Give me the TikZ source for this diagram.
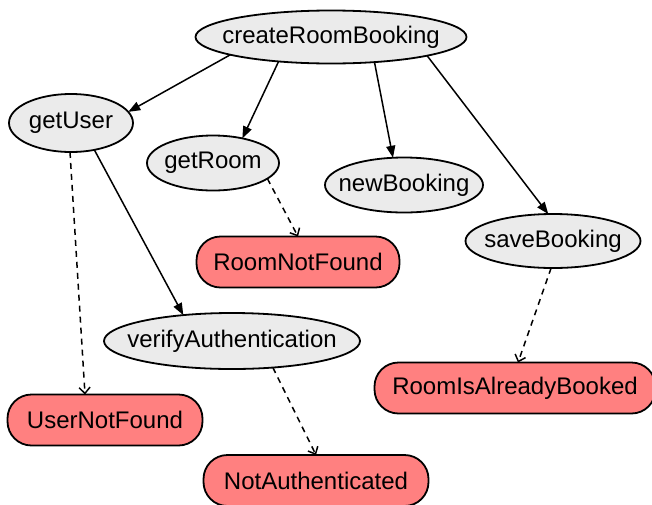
\documentclass[tikz,border=0pt]{standalone}
\usepackage{fontspec}
\setmainfont{Liberation Sans}
\usetikzlibrary{shapes.geometric,arrows.meta}
\definecolor{nodegray}{RGB}{235,235,235}
\definecolor{errred}{RGB}{255,128,128}
\newcommand{\lbl}[1]{\makebox[0pt][c]{#1}}
\begin{document}
\begin{tikzpicture}[x=1pt,y=-1pt,
  op/.style={ellipse, draw, line width=1.8pt, fill=nodegray, inner sep=0pt, outer sep=0pt,
    font=\fontsize{24}{28}\selectfont},
  err/.style={rectangle, rounded corners=24pt, draw, line width=1.8pt, fill=errred,
    inner sep=0pt, outer sep=0pt, minimum height=51pt, font=\fontsize{24}{28}\selectfont},
  call/.style={-{Triangle[length=12pt,width=9pt]}, line width=1.5pt},
  fail/.style={-{Straight Barb[length=6pt,width=11pt]}, dashed, dash pattern=on 6pt off 5pt, line width=1.5pt}]
\useasboundingbox (0,0) rectangle (652,504);

\node[op, minimum width=271pt, minimum height=53pt] (crb) at (331,37) {\lbl{createRoomBooking}};
\node[op, minimum width=124pt, minimum height=58pt] (gu) at (71,123) {\lbl{getUser}};
\node[op, minimum width=132pt, minimum height=55pt] (gr) at (213,163) {\lbl{getRoom}};
\node[op, minimum width=158pt, minimum height=55pt] (nb) at (404,185) {\lbl{newBooking}};
\node[op, minimum width=175pt, minimum height=54pt] (sb) at (553,241) {\lbl{saveBooking}};
\node[op, minimum width=256pt, minimum height=56pt] (va) at (232,341) {\lbl{verifyAuthentication}};

\node[err, minimum width=203pt] (rnf) at (298,262) {\lbl{RoomNotFound}};
\node[err, minimum width=195pt] (unf) at (105,420) {\lbl{UserNotFound}};
\node[err, minimum width=225pt] (na) at (316,480.5) {\lbl{NotAuthenticated}};
\node[err, minimum width=281pt] (riab) at (515,388) {\lbl{RoomIsAlreadyBooked}};

\draw[call] (crb.190) -- (gu.11);
\draw[call] (crb.205) -- (gr.40);
\draw[call] (crb.330) -- (nb.112);
\draw[call] (crb.349) -- (sb.100);
\draw[call] (gu.311) -- (va.152);

\draw[fail] (gu.268) -- ([xshift=-20pt]unf.north);
\draw[fail] (gr.344) -- (rnf.north);
\draw[fail] (sb.266) -- ([xshift=3pt]riab.north);
\draw[fail] (va.327) -- (na.north);
\end{tikzpicture}
\end{document}
